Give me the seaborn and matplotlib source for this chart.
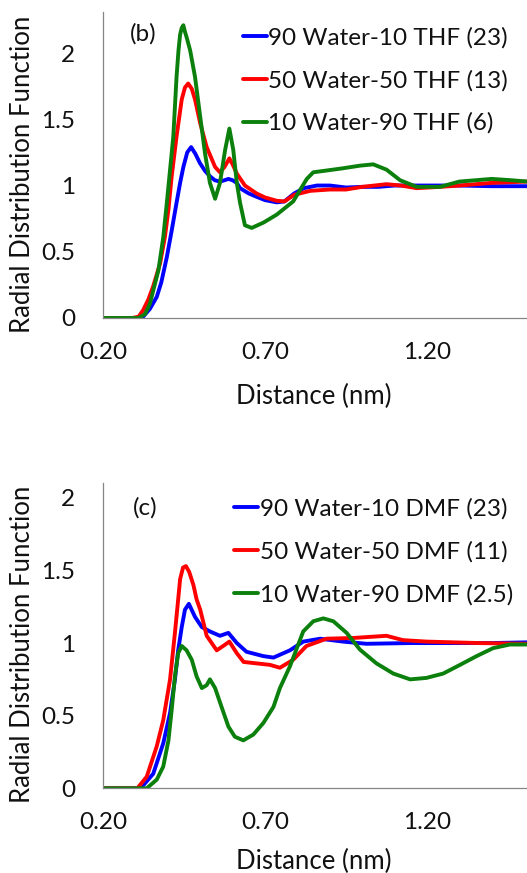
import numpy as np
import pandas as pd
import matplotlib
matplotlib.use("Agg")
import matplotlib.pyplot as plt
from matplotlib.ticker import MultipleLocator, FixedLocator, FixedFormatter
import seaborn as sns

# ---------------- data ----------------
# Panel (b): THF mixtures
thf_w90_x = [0.20, 0.31, 0.324, 0.345, 0.366, 0.38, 0.397, 0.412, 0.427, 0.438, 0.448, 0.46, 0.472, 0.485,
             0.499, 0.515, 0.53, 0.545, 0.561, 0.575, 0.587, 0.60, 0.613, 0.623, 0.65, 0.674, 0.70, 0.736,
             0.76, 0.79, 0.82, 0.86, 0.90, 0.95, 1.00, 1.05, 1.10, 1.20, 1.30, 1.40, 1.51]
thf_w90_y = [0, 0, 0.01, 0.07, 0.16, 0.27, 0.46, 0.66, 0.87, 1.02, 1.14, 1.25, 1.29, 1.24,
             1.17, 1.11, 1.07, 1.04, 1.03, 1.04, 1.05, 1.04, 1.02, 0.98, 0.94, 0.915, 0.89, 0.873,
             0.88, 0.94, 0.98, 1.00, 1.00, 0.985, 0.99, 0.99, 1.00, 1.00, 1.00, 0.995, 0.995]

thf_w50_x = [0.20, 0.29, 0.31, 0.324, 0.34, 0.355, 0.376, 0.391, 0.402, 0.412, 0.427, 0.443, 0.453, 0.463,
             0.474, 0.484, 0.50, 0.52, 0.546, 0.561, 0.575, 0.59, 0.60, 0.613, 0.638, 0.674, 0.70, 0.736,
             0.76, 0.79, 0.84, 0.90, 0.95, 1.00, 1.075, 1.12, 1.168, 1.24, 1.30, 1.40, 1.51]
thf_w50_y = [0, 0, 0.01, 0.06, 0.14, 0.24, 0.41, 0.61, 0.82, 1.07, 1.37, 1.65, 1.74, 1.77,
             1.73, 1.65, 1.47, 1.29, 1.14, 1.10, 1.14, 1.205, 1.16, 1.09, 1.00, 0.94, 0.91, 0.885,
             0.88, 0.93, 0.96, 0.97, 0.97, 0.99, 1.01, 1.00, 0.98, 0.99, 1.00, 1.02, 1.03]

thf_w10_x = [0.20, 0.31, 0.33, 0.345, 0.371, 0.386, 0.397, 0.405, 0.417, 0.427, 0.433, 0.438, 0.443, 0.448,
             0.453, 0.458, 0.469, 0.484, 0.50, 0.515, 0.53, 0.546, 0.561, 0.577, 0.59, 0.602, 0.613, 0.623,
             0.638, 0.659, 0.695, 0.736, 0.787, 0.829, 0.849, 0.88, 0.94, 0.993, 1.034, 1.075, 1.117,
             1.168, 1.24, 1.30, 1.40, 1.46, 1.51]
thf_w10_y = [0, 0, 0.03, 0.11, 0.36, 0.61, 0.87, 1.07, 1.37, 1.82, 2.02, 2.14, 2.19, 2.21,
             2.16, 2.12, 2.02, 1.82, 1.52, 1.24, 1.02, 0.90, 1.02, 1.27, 1.43, 1.27, 1.02, 0.87,
             0.70, 0.68, 0.72, 0.78, 0.88, 1.05, 1.10, 1.11, 1.13, 1.15, 1.16, 1.12, 1.04,
             0.99, 0.99, 1.03, 1.05, 1.04, 1.03]

# Panel (c): DMF mixtures
dmf_w90_x = [0.20, 0.31, 0.324, 0.355, 0.386, 0.407, 0.422, 0.432, 0.443, 0.453, 0.465, 0.484, 0.505,
             0.53, 0.561, 0.587, 0.613, 0.643, 0.695, 0.726, 0.777, 0.818, 0.87, 0.941, 1.013, 1.148,
             1.30, 1.40, 1.51]
dmf_w90_y = [0, 0, 0.02, 0.10, 0.31, 0.52, 0.75, 0.95, 1.11, 1.23, 1.27, 1.18, 1.11,
             1.08, 1.05, 1.07, 1.00, 0.94, 0.91, 0.90, 0.95, 1.01, 1.03, 1.01, 0.995, 1.00,
             1.00, 1.00, 1.005]

dmf_w50_x = [0.20, 0.306, 0.335, 0.366, 0.386, 0.407, 0.422, 0.432, 0.438, 0.447, 0.456, 0.466, 0.479,
             0.489, 0.50, 0.52, 0.551, 0.571, 0.59, 0.613, 0.634, 0.674, 0.715, 0.746, 0.787, 0.828,
             0.89, 0.972, 1.075, 1.126, 1.20, 1.36, 1.51]
dmf_w50_y = [0, 0, 0.08, 0.29, 0.47, 0.75, 1.07, 1.30, 1.44, 1.52, 1.53, 1.49, 1.40,
             1.30, 1.23, 1.05, 0.95, 0.98, 1.01, 0.93, 0.87, 0.86, 0.85, 0.83, 0.885, 0.98,
             1.03, 1.035, 1.05, 1.02, 1.01, 1.00, 0.995]

dmf_w10_x = [0.20, 0.335, 0.366, 0.386, 0.402, 0.412, 0.422, 0.432, 0.443, 0.458, 0.474, 0.489, 0.505,
             0.52, 0.53, 0.546, 0.566, 0.587, 0.607, 0.633, 0.664, 0.695, 0.726, 0.746, 0.777, 0.818,
             0.849, 0.88, 0.911, 0.952, 0.993, 1.044, 1.096, 1.148, 1.198, 1.25, 1.302, 1.353, 1.404,
             1.456, 1.51]
dmf_w10_y = [0, 0, 0.06, 0.15, 0.33, 0.54, 0.77, 0.93, 0.98, 0.95, 0.885, 0.77, 0.69,
             0.71, 0.75, 0.69, 0.56, 0.425, 0.355, 0.33, 0.37, 0.45, 0.56, 0.69, 0.84, 1.08,
             1.15, 1.17, 1.15, 1.07, 0.955, 0.86, 0.79, 0.75, 0.76, 0.79, 0.85, 0.91, 0.965,
             0.99, 0.99]

thf_labels = ["90 Water-10 THF (23)", "50 Water-50 THF (13)", "10 Water-90 THF (6)"]
dmf_labels = ["90 Water-10 DMF (23)", "50 Water-50 DMF (11)", "10 Water-90 DMF (2.5)"]
line_colors = ["#0000ff", "#ff0000", "#0c800c"]
x_tick_values = [0.20, 0.70, 1.20]
x_tick_labels = ["0.20", "0.70", "1.20"]
y_tick_values = [0, 0.5, 1, 1.5, 2]
y_tick_labels = ["0", "0.5", "1", "1.5", "2"]


def long_frame(xs, ys, labels):
    parts = []
    for x, y, lab in zip(xs, ys, labels):
        parts.append(pd.DataFrame({"Distance": x, "RDF": y, "series": lab}))
    return pd.concat(parts, ignore_index=True)


df_thf = long_frame([thf_w90_x, thf_w50_x, thf_w10_x], [thf_w90_y, thf_w50_y, thf_w10_y], thf_labels)
df_dmf = long_frame([dmf_w90_x, dmf_w50_x, dmf_w10_x], [dmf_w90_y, dmf_w50_y, dmf_w10_y], dmf_labels)

# ---------------- styling ----------------
sns.set_style("white")
FONT = ["Lato", "DejaVu Sans"]
plt.rcParams["font.family"] = FONT
FS = 17.5
FS_LABEL = 18.5
GRAY = "#868686"
TXT = "#111111"

W, H = 527, 873
fig = plt.figure(figsize=(W / 100, H / 100), dpi=100)

left = 103 / W
width = 1 - left
ax1 = fig.add_axes([left, 1 - 318 / H, width, (318 - 12) / H])
ax2 = fig.add_axes([left, 1 - 788.3 / H, width, (788.3 - 483.3) / H])


def draw(ax, df, labels, ymax, tag, tag_pos, leg_anchor, xlab_y, ylab_y):
    sns.lineplot(data=df, x="Distance", y="RDF", hue="series", hue_order=labels,
                 palette=line_colors, sort=False, estimator=None, linewidth=2.8, ax=ax)
    ax.set_xlim(0.2, 0.2 + (W - 103) / 324)
    ax.set_ylim(0, ymax)
    for s in ["top", "right"]:
        ax.spines[s].set_visible(False)
    for s in ["left", "bottom"]:
        ax.spines[s].set_color(GRAY)
        ax.spines[s].set_linewidth(0.9)
    ax.xaxis.set_major_locator(FixedLocator(x_tick_values))
    ax.xaxis.set_major_formatter(FixedFormatter(x_tick_labels))
    ax.xaxis.set_minor_locator(MultipleLocator(0.1))
    ax.yaxis.set_major_locator(FixedLocator(y_tick_values))
    ax.yaxis.set_major_formatter(FixedFormatter(y_tick_labels))
    ax.yaxis.set_minor_locator(MultipleLocator(0.1))
    ax.tick_params(axis="both", which="both", direction="out", color=GRAY, width=0.9,
                   labelsize=FS, labelcolor=TXT)
    ax.tick_params(axis="both", which="major", length=6)
    ax.tick_params(axis="both", which="minor", length=5.5)
    ax.tick_params(axis="x", which="major", pad=11)
    ax.tick_params(axis="y", which="major", pad=14)
    ax.set_xlabel("Distance (nm)", fontsize=FS_LABEL, color=TXT, va="center")
    ax.set_ylabel("Radial Distribution Function", fontsize=FS_LABEL, color=TXT,
                  va="center", ha="center")
    ax.xaxis.set_label_coords(0.496, xlab_y)
    ax.yaxis.set_label_coords(-0.189, ylab_y)
    ax.text(tag_pos[0], tag_pos[1], tag, transform=ax.transAxes, fontsize=FS,
            ha="left", va="center", color=TXT)
    leg = ax.legend(loc="upper left", bbox_to_anchor=leg_anchor, frameon=False,
                    fontsize=FS, handlelength=1.0, handletextpad=0.05,
                    labelspacing=0.88, borderpad=0, borderaxespad=0)
    for t in leg.get_texts():
        t.set_color(TXT)
    for h in leg.get_lines():
        h.set_linewidth(2.8)


draw(ax1, df_thf, thf_labels, 2.31, "(b)", (0.064, 0.928), (0.330, 0.952), -0.255, 0.47)
draw(ax2, df_dmf, dmf_labels, 2.10, "(c)", (0.071, 0.919), (0.309, 0.952), -0.241, 0.473)

fig.savefig("out.png", dpi=100)
